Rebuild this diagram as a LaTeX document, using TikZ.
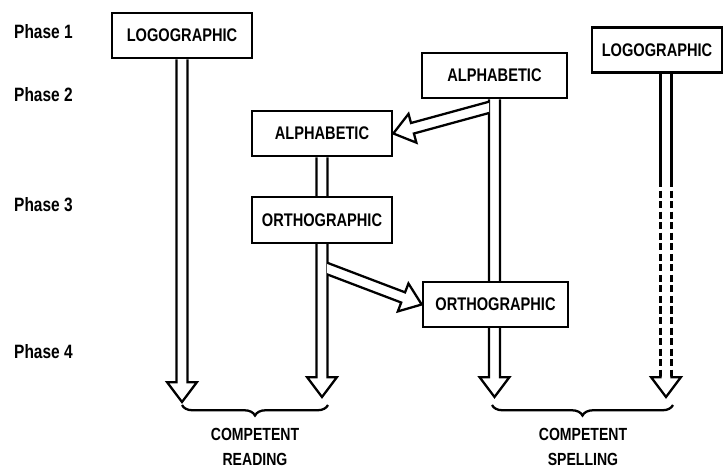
\documentclass[tikz,border=0pt]{standalone}
\usepackage{fontspec}
\setmainfont{Liberation Sans}[FakeStretch=0.8]
\usetikzlibrary{calc,backgrounds,decorations.pathreplacing}

\begin{document}
\begin{tikzpicture}[
    x=0.02cm, y=-0.02cm,
    % Stage box style
    stage/.style={
        rectangle, draw, fill=white, line width=1.5pt,
        minimum width=2.8cm, minimum height=0.9cm,
        inner sep=2pt, font=\fontsize{10.4}{12}\selectfont\bfseries
    },
    % Phase label style
    phase/.style={anchor=west, font=\fontsize{11}{13}\selectfont\bfseries},
    % Outcome label style
    outcome/.style={align=center, font=\fontsize{10}{14.2}\selectfont\bfseries},
    % Hollow block arrow (open at its start)
    hollow/.style={
        draw, fill=white, line width=1.3pt, line join=miter,
        to path={
            ($(\tikztostart)!3.1pt!90:(\tikztotarget)$)
            -- ($(\tikztotarget)!11.3pt!(\tikztostart)!3.1pt!90:(\tikztotarget)$)
            -- ($(\tikztotarget)!11.3pt!(\tikztostart)!8.5pt!90:(\tikztotarget)$)
            -- (\tikztotarget)
            -- ($(\tikztotarget)!11.3pt!(\tikztostart)!8.5pt!-90:(\tikztotarget)$)
            -- ($(\tikztotarget)!11.3pt!(\tikztostart)!3.1pt!-90:(\tikztotarget)$)
            -- ($(\tikztostart)!3.1pt!-90:(\tikztotarget)$)
        }
    },
    % Hollow shaft, no head
    shaft/.style={
        draw, line width=1.3pt,
        to path={
            ($(\tikztostart)!3.1pt!90:(\tikztotarget)$) -- ($(\tikztotarget)!3.1pt!-90:(\tikztostart)$)
            ($(\tikztostart)!3.1pt!-90:(\tikztotarget)$) -- ($(\tikztotarget)!3.1pt!90:(\tikztostart)$)
        }
    },
    % Grouping brace
    group/.style={decorate, decoration={brace, mirror, amplitude=6pt}, line width=1.3pt}
]
\useasboundingbox (0,0) rectangle (724,472);

% --- Phase labels ---
\node[phase] (ph1) at (8, 32) {Phase 1};
\node[phase] (ph2) at (8, 95) {Phase 2};
\node[phase] (ph3) at (8, 205) {Phase 3};
\node[phase] (ph4) at (8, 352) {Phase 4};

% --- Reading route ---
\node[stage] (logoR) at (182, 35.5) {LOGOGRAPHIC};
\node[stage] (alphaR) at (322, 133.5) {ALPHABETIC};
\node[stage, minimum height=0.92cm] (orthoR) at (322, 220) {ORTHOGRAPHIC};

% --- Spelling route ---
\node[stage, minimum width=2.9cm] (alphaS) at (494.5, 75.5) {ALPHABETIC};
\node[stage, minimum width=2.6cm] (logoS) at (657, 50) {LOGOGRAPHIC};
\node[stage, minimum width=2.9cm] (orthoS) at (495.5, 304.5) {ORTHOGRAPHIC};

% --- Free ends ---
\coordinate (readTip1) at (182, 402);
\coordinate (readTip2) at (322, 397);
\coordinate (spellTip1) at (494.5, 397);
\coordinate (spellTip2) at (666, 397);
\coordinate (alphaFork) at (494, 106);
\coordinate (orthoFork) at (322, 266.6);
\coordinate (logoFoot) at (666, 72);
\coordinate (dashTop) at (666, 180);
\coordinate (dashEnd) at (666, 377);

% --- Arrows, behind the boxes ---
\begin{scope}[on background layer]
\fill[white] (0,0) rectangle (724,472);
\path[hollow] (logoR.south) to (readTip1);
\path[hollow] (alphaR.south) to (readTip2);
\path[hollow] (alphaS.south) to (spellTip1);
\begin{scope}
    \clip (0,0) rectangle (489,472);
    \path[hollow] (alphaFork) to (alphaR.east);
\end{scope}
\begin{scope}
    \clip (327,0) rectangle (724,472);
    \path[hollow] (orthoFork) to (orthoS.west);
\end{scope}
% dashed logographic spelling route
\path[shaft] (logoFoot) to (dashTop);
\path[shaft, dash pattern=on 4pt off 2pt] (dashTop) to (dashEnd);
\path[hollow] (dashEnd) to (spellTip2);
\end{scope}

% --- Outcomes ---
\coordinate (braceR1) at (182, 405);
\coordinate (braceR2) at (328, 405);
\coordinate (braceS1) at (492, 405);
\coordinate (braceS2) at (673, 405);
\draw[group] (braceR1) -- (braceR2);
\draw[group] (braceS1) -- (braceS2);
\node[outcome] (reading) at (255, 447) {COMPETENT\\READING};
\node[outcome] (spelling) at (583, 447) {COMPETENT\\SPELLING};

\end{tikzpicture}
\end{document}
